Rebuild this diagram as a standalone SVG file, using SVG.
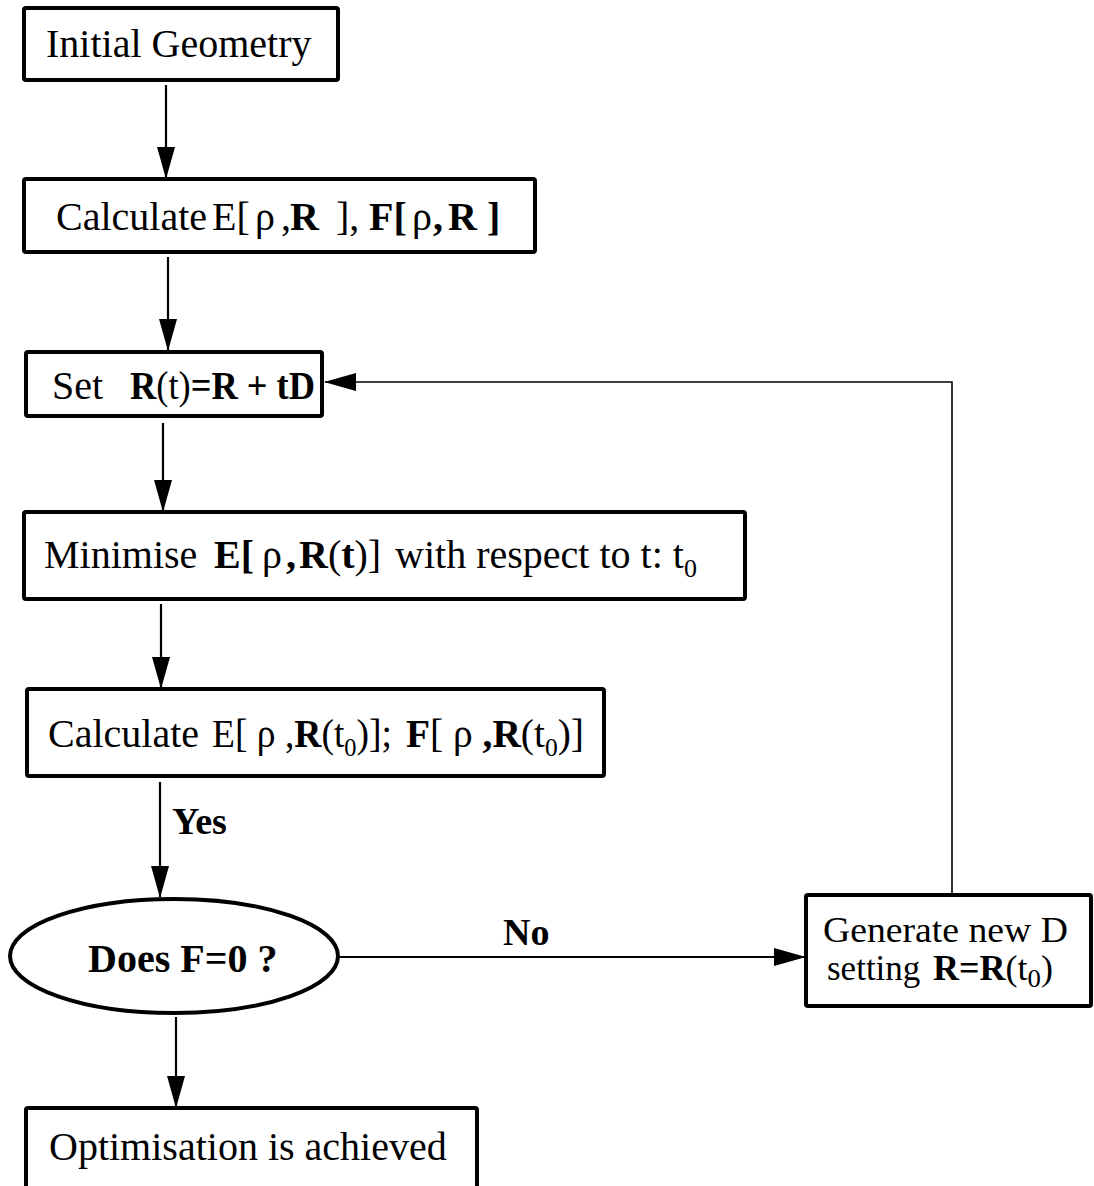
<svg xmlns="http://www.w3.org/2000/svg" width="1094" height="1186" viewBox="0 0 1094 1186">
<style>
.box{fill:#fff;stroke:#000;stroke-width:4;stroke-linejoin:round}
.t{font-family:"Liberation Serif","Times New Roman",serif;font-size:40px;fill:#000}
.b{font-weight:bold}
.sub{font-size:26px}
.con{fill:none;stroke:#000;stroke-width:2.2}
.thin{fill:none;stroke:#000;stroke-width:1.6}
.lbl{font-family:"Liberation Serif","Times New Roman",serif;font-size:38px;font-weight:bold;fill:#000}
.g{font-size:35px}
</style>
<defs>
<marker id="arr" markerUnits="userSpaceOnUse" markerWidth="32" markerHeight="18" refX="31" refY="9" orient="auto">
<path d="M0,0 L32,9 L0,18 Z" fill="#000"/>
</marker>
</defs>
<rect width="1094" height="1186" fill="#fff"/>
<g id="connectors">
<path class="con" d="M166,85 L166,178" marker-end="url(#arr)"/>
<path class="con" d="M168,257 L168,350" marker-end="url(#arr)"/>
<path class="con" d="M163,423 L163,511" marker-end="url(#arr)"/>
<path class="con" d="M161,604 L161,688" marker-end="url(#arr)"/>
<path class="con" d="M160,782 L160,897" marker-end="url(#arr)"/>
<text class="lbl" x="172" y="834">Yes</text>
<path class="con" d="M339,957 L805,957" marker-end="url(#arr)"/>
<text class="lbl" x="503" y="945">No</text>
<path class="con" d="M176,1017 L176,1107" marker-end="url(#arr)"/>
<path class="thin" d="M952,894 L952,382 L325,382" marker-end="url(#arr)"/>
</g>
<g id="n1">
<rect class="box" x="24" y="8" width="314" height="72" rx="2"/>
<text class="t" x="46" y="57">Initial Geometry</text>
</g>
<g id="n2">
<rect class="box" x="24" y="179" width="511" height="73" rx="2"/>
<text class="t" y="230"><tspan x="56">Calculate</tspan><tspan x="212">E[</tspan><tspan x="255">ρ</tspan><tspan x="281">,</tspan><tspan x="290" class="b">R</tspan><tspan x="336">],</tspan><tspan x="369" class="b">F[</tspan><tspan x="412">ρ</tspan><tspan x="433" class="b">,</tspan><tspan x="448" class="b">R</tspan><tspan x="487" class="b">]</tspan></text>
</g>
<g id="n3">
<rect class="box" x="26" y="352" width="296" height="64" rx="2"/>
<text class="t" x="52" y="399">Set</text>
<text class="t" x="130" y="399" textLength="185" lengthAdjust="spacingAndGlyphs"><tspan class="b">R</tspan><tspan>(t)</tspan><tspan class="b">=R + tD</tspan></text>
</g>
<g id="n4">
<rect class="box" x="24" y="512" width="721" height="87" rx="2"/>
<text class="t" y="568"><tspan x="44">Minimise</tspan><tspan x="214" class="b">E[</tspan><tspan x="262">ρ</tspan><tspan x="286" class="b">,</tspan><tspan x="299" class="b">R</tspan><tspan>(</tspan><tspan class="b">t</tspan><tspan>)]</tspan></text>
<text class="t" x="395" y="568" textLength="302" lengthAdjust="spacing">with respect to t: t<tspan class="sub" dy="9">0</tspan></text>
</g>
<g id="n5">
<rect class="box" x="27" y="689" width="577" height="87" rx="2"/>
<text class="t" x="48" y="747">Calculate</text>
<text class="t" x="212" y="747" textLength="180" lengthAdjust="spacingAndGlyphs">E[ ρ ,<tspan class="b">R</tspan>(t<tspan class="sub" dy="9">0</tspan><tspan dy="-9">)];</tspan></text>
<text class="t" x="406" y="747" textLength="178" lengthAdjust="spacingAndGlyphs"><tspan class="b">F</tspan>[ ρ <tspan class="b">,R</tspan>(t<tspan class="sub" dy="9">0</tspan><tspan dy="-9">)]</tspan></text>
</g>
<g id="n6">
<ellipse class="box" cx="174" cy="956" rx="164" ry="57"/>
<text class="t b" x="88" y="972">Does F=0 ?</text>
</g>
<g id="n7">
<rect class="box" x="806" y="895" width="285" height="111" rx="2"/>
<text class="t g" x="823" y="942" textLength="245" lengthAdjust="spacingAndGlyphs">Generate new D</text>
<text class="t g" y="980"><tspan x="827">setting</tspan></text>
<text class="t g" x="933" y="980" textLength="120" lengthAdjust="spacingAndGlyphs"><tspan class="b">R=R</tspan>(t<tspan class="sub" dy="7">0</tspan><tspan dy="-7">)</tspan></text>
</g>
<g id="n8">
<rect class="box" x="26" y="1108" width="451" height="100" rx="2"/>
<text class="t" x="49" y="1160">Optimisation is achieved</text>
</g>
</svg>
